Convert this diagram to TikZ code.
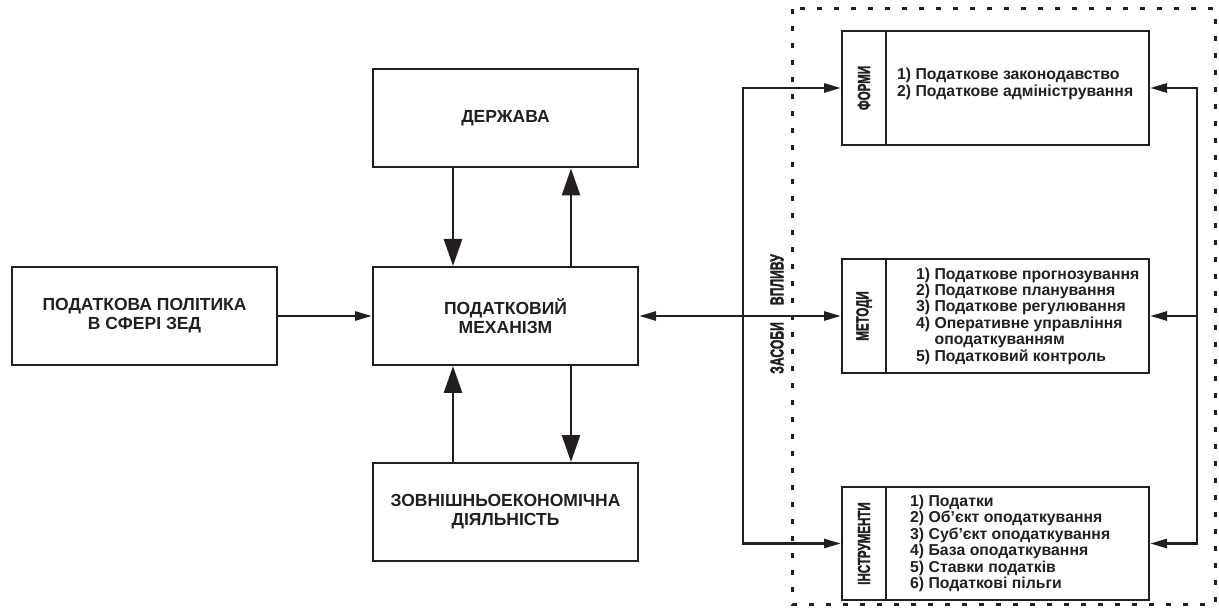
\documentclass[tikz,border=0pt]{standalone}
\usepackage{fontspec}
\setmainfont{Liberation Sans}
\newfontfamily\heavyfont{Liberation Sans}[FakeBold=2.2]
\usetikzlibrary{arrows.meta,positioning}
\definecolor{ink}{RGB}{35,31,32}
\newcommand{\narrow}[1]{\scalebox{0.66}[1]{\heavyfont\bfseries #1}}

\begin{document}
\begin{tikzpicture}[x=1pt,y=-1pt,color=ink]
    \tikzstyle{box} = [shape=rectangle, draw, line width=2pt, minimum width=265pt, minimum height=98pt, align=center, font=\fontsize{17.5}{19}\selectfont\bfseries]
    \tikzstyle{tag} = [shape=rectangle, draw, line width=2pt, minimum width=44pt, minimum height=114pt, inner sep=0pt, font=\fontsize{17.5}{17.5}\selectfont]
    \tikzstyle{lst} = [shape=rectangle, draw, line width=2pt, minimum width=263pt, minimum height=114pt]
    \tikzstyle{txt} = [align=left, anchor=west, inner sep=0pt, font=\fontsize{15.8}{16.4}\selectfont\bfseries]
    \tikzstyle{vert} = [rotate=90, inner sep=0pt, font=\fontsize{18.5}{18.5}\selectfont]
    \tikzstyle{big} = [line width=2.7pt, -{Triangle[length=27pt,width=18pt]}]
    \tikzstyle{small} = [line width=2.7pt, -{Triangle[length=17pt,width=9pt]}]
    \tikzstyle{both} = [line width=2.7pt, {Triangle[length=17pt,width=9pt]}-{Triangle[length=17pt,width=9pt]}]
    \useasboundingbox (0,0) rectangle (1219,612);

    % left part
    \node (policy) [box] at (144.5,316) {ПОДАТКОВА ПОЛІТИКА\\В СФЕРІ ЗЕД};
    \node (state)  [box] at (505.5,118.5) {ДЕРЖАВА};
    \node (mech)   [box] at (505.5,316) {ПОДАТКОВИЙ\\МЕХАНІЗМ};
    \node (zed)    [box] at (505.5,512) {ЗОВНІШНЬОЕКОНОМІЧНА\\ДІЯЛЬНІСТЬ};

    \draw [small] (policy) -- (mech);
    \draw [big] ([xshift=-52.5pt]state.south) -- ([xshift=-52.5pt]mech.north);
    \draw [big] ([xshift=65.5pt]mech.north) -- ([xshift=65.5pt]state.south);
    \draw [big] ([xshift=-52.5pt]zed.north) -- ([xshift=-52.5pt]mech.south);
    \draw [big] ([xshift=65.5pt]mech.south) -- ([xshift=65.5pt]zed.north);

    % right part
    \draw [line width=3pt, dash pattern=on 5pt off 12pt] (792,9) rectangle (1215,604);

    \node (formsTag)   [tag] at (864,88)    {\rotatebox{90}{\narrow{ФОРМИ}}};
    \node (methodsTag) [tag] at (864,316)   {\rotatebox{90}{\narrow{МЕТОДИ}}};
    \node (instrTag)   [tag, minimum height=113pt] at (864,543.5) {\rotatebox{90}{\narrow{ІНСТРУМЕНТИ}}};
    \node (forms)   [lst, right=-2pt of formsTag] {};
    \node (methods) [lst, right=-2pt of methodsTag] {};
    \node (instr)   [lst, minimum height=113pt, right=-2pt of instrTag] {};

    \node (formsTxt) [txt, right=12pt of forms.west, yshift=4pt]
        {1) Податкове законодавство\\2) Податкове адміністрування};
    \node (methodsTxt) [txt, right=31pt of methods.west]
        {1) Податкове прогнозування\\2) Податкове планування\\3) Податкове регулювання\\4) Оперативне управління\\\phantom{4) }оподаткуванням\\5) Податковий контроль};
    \node (instrTxt) [txt, right=25pt of instr.west]
        {1) Податки\\2) Об’єкт оподаткування\\3) Суб’єкт оподаткування\\4) База оподаткування\\5) Ставки податків\\6) Податкові пільги};

    \node (means) [vert] at (777,314) {\narrow{ЗАСОБИ}\hspace{17pt}\narrow{ВПЛИВУ}};

    \coordinate (lbus) at (743,316);
    \coordinate (rbus) at (1197,316);
    \draw [both] (mech) -- (methodsTag);
    \draw [small] (lbus) |- (formsTag);
    \draw [small] (lbus) |- (instrTag);
    \draw [small] (rbus) -- (methods);
    \draw [small] (rbus) |- (forms);
    \draw [small] (rbus) |- (instr);
\end{tikzpicture}
\end{document}
